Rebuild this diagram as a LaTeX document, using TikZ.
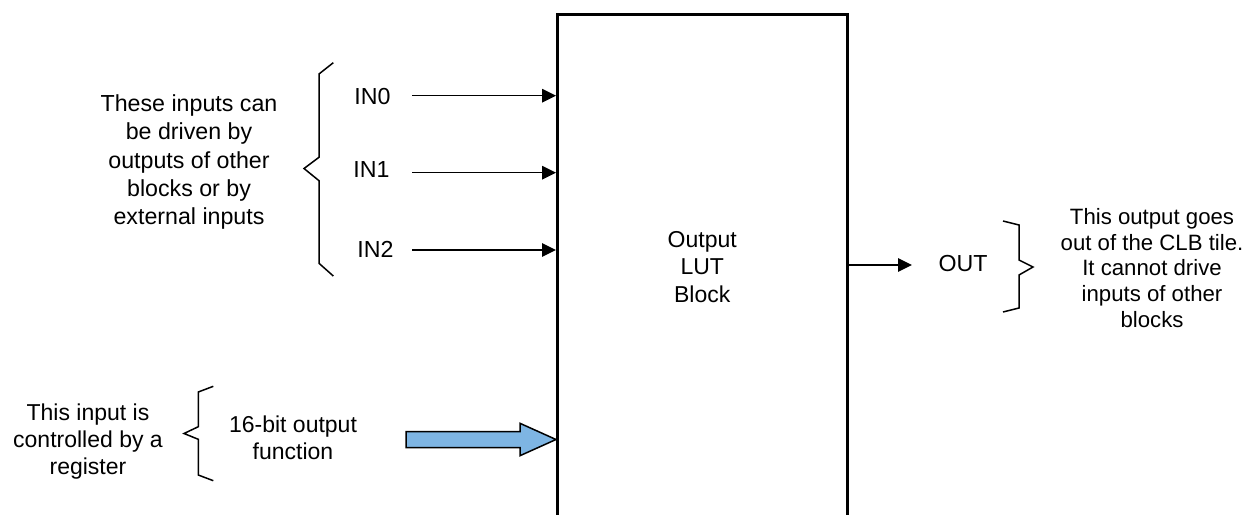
\documentclass[tikz,border=0pt]{standalone}
\usepackage{fontspec}
\setmainfont{Liberation Sans}
\usetikzlibrary{arrows.meta}
\definecolor{arrowblue}{RGB}{126,181,227}
\tikzset{
  lbl/.style={inner sep=0pt, align=center, font=\fontsize{23.2}{28.2}\selectfont},
  lblr/.style={inner sep=0pt, align=center, font=\fontsize{22.2}{25.8}\selectfont},
  lblb/.style={inner sep=0pt, align=center, font=\fontsize{23}{27}\selectfont},
  blockbox/.style={draw, line width=3pt, minimum width=289.5pt, minimum height=506pt, inner sep=0pt, align=center, font=\fontsize{23}{27.5}\selectfont},
  sigarrow/.style={line width=1.5pt, -{Triangle[length=14pt,width=13.5pt]}},
  bracepath/.style={line width=1.5pt, line join=miter},
}
\begin{document}
\begin{tikzpicture}[x=1pt,y=-1pt]
\useasboundingbox (0,0) rectangle (1246,514);
\clip (0,0) rectangle (1246,514);

% main block
\node[blockbox] (box) at (702.25,267) {Output\\LUT\\Block};

% input labels
\node[lbl] (in0) at (372.5,97) {IN0};
\node[lbl] (in1) at (371.5,170) {IN1};
\node[lbl] (in2) at (375.5,249) {IN2};

\coordinate (s0) at (412,95.7);
\coordinate (s1) at (412,172.7);
\coordinate (s2) at (412,250);
\draw[sigarrow] (s0) -- (s0 -| box.west);
\draw[sigarrow] (s1) -- (s1 -| box.west);
\draw[sigarrow] (s2) -- (s2 -| box.west);

% left brace
\draw[bracepath] (333.3,62.7) -- (319,74) -- (319,157.3) -- (304,168.5) -- (319,180.7) -- (319,263.3) -- (333.3,276);

\node[lbl] (ltext) at (189,162) {These inputs can\\be driven by\\outputs of other\\blocks or by\\external inputs};

% output
\node[lbl] (out) at (963,264) {OUT};
\coordinate (o1) at (912,265);
\draw[sigarrow] (o1 -| box.east) -- (o1);

% right brace
\draw[bracepath] (1003,221) -- (1019,225) -- (1019,260) -- (1033,267) -- (1019,275) -- (1019,308) -- (1003,312);

\node[lblr] (rtext) at (1152,268) {This output goes\\out of the CLB tile.\\It cannot drive\\inputs of other\\blocks};

% bottom input
\node[lblb] (func) at (293,438) {16-bit output\\function};
\node[lblb] (btext) at (88,442) {This input is\\controlled by a\\register};

\draw[bracepath] (213.3,386.3) -- (198.3,392) -- (198.3,426.7) -- (184,433.5) -- (198.3,439.3) -- (198.3,475) -- (213.3,480.7);

% blue fat arrow
\coordinate (bt) at (555.7,439.5);
\draw[line width=1.5pt, fill=arrowblue, line join=miter]
  (406,431.7) -- (520,431.7) -- (520,423.3) -- (bt -| box.west) -- (520,455.7) -- (520,447.7) -- (406,447.7) -- cycle;
\end{tikzpicture}
\end{document}
